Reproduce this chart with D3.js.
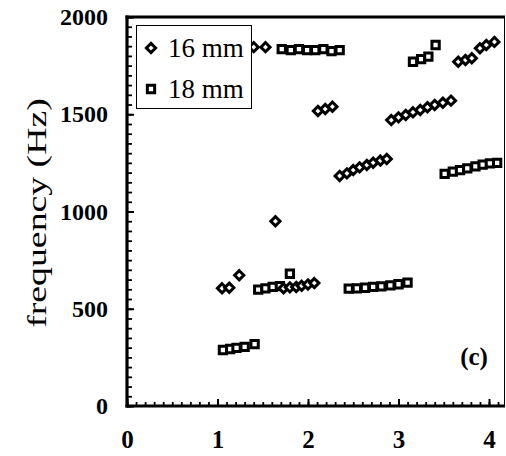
<!DOCTYPE html>
<html>
<head>
<meta charset="utf-8"/>
<script src="https://cdn.jsdelivr.net/npm/d3@7"></script>
<style>
  body { margin: 0; background: #fff; }
  text { font-family: "Liberation Serif", "Times New Roman", serif; fill: #000; }
</style>
</head>
<body>
<script>
// 16 mm series (diamonds)
var d16x = [1.05, 1.13, 1.24, 1.40, 1.53, 1.64,
            1.73, 1.80, 1.87, 1.93, 2.00, 2.07,
            2.11, 2.19, 2.27,
            2.35, 2.43, 2.50, 2.57, 2.65, 2.72, 2.80, 2.87,
            2.92, 3.00, 3.08, 3.16, 3.24, 3.32, 3.40, 3.49, 3.58,
            3.66, 3.74, 3.81, 3.90, 3.97, 4.06];
var d16y = [605, 608, 672, 1845, 1845, 950,
            605, 610, 612, 618, 625, 632,
            1517, 1527, 1539,
            1183, 1196, 1213, 1227, 1239, 1251, 1262, 1270,
            1470, 1484, 1496, 1510, 1522, 1536, 1548, 1559, 1570,
            1770, 1779, 1788, 1839, 1856, 1872];
// 18 mm series (squares)
var d18x = [1.06, 1.14, 1.21, 1.30, 1.41,
            1.45, 1.53, 1.61, 1.69, 1.80,
            1.71, 1.81, 1.90, 1.99, 2.08, 2.17, 2.26, 2.35,
            2.45, 2.54, 2.63, 2.72, 2.81, 2.91, 3.00, 3.10,
            3.16, 3.25, 3.33, 3.41,
            3.51, 3.60, 3.68, 3.76, 3.85, 3.93, 4.01, 4.09];
var d18y = [288, 293, 299, 304, 318,
            598, 605, 612, 616, 680,
            1835, 1830, 1835, 1830, 1830, 1835, 1825, 1830,
            603, 605, 608, 612, 615, 620, 626, 634,
            1770, 1783, 1796, 1856,
            1193, 1205, 1213, 1222, 1232, 1241, 1247, 1250];
var xTicks = [0, 1, 2, 3, 4];
var yTicks = [0, 500, 1000, 1500, 2000];
var seriesNames = ["16 mm", "18 mm"];

var W = 506, H = 456;
var svg = d3.select("body").append("svg").attr("width", W).attr("height", H);

var x = d3.scaleLinear().domain([0, 4.2]).range([127, 507.1]);
var y = d3.scaleLinear().domain([0, 2000]).range([406, 17]);

// minor ticks
svg.append("g").attr("transform", "translate(0,406)")
  .call(d3.axisBottom(x).tickValues(d3.range(0, 4.2, 0.1)).tickSize(-4).tickFormat(""))
  .call(g => g.select(".domain").remove())
  .selectAll("line").attr("stroke", "#000").attr("stroke-width", 1.8);
svg.append("g").attr("transform", "translate(127,0)")
  .call(d3.axisLeft(y).tickValues(d3.range(0, 2001, 50)).tickSize(-5).tickFormat(""))
  .call(g => g.select(".domain").remove())
  .selectAll("line").attr("stroke", "#000").attr("stroke-width", 1.8);

// major ticks + labels
var xa = svg.append("g").attr("transform", "translate(0,406)")
  .call(d3.axisBottom(x).tickValues(xTicks).tickSize(-7).tickPadding(24).tickFormat(d3.format("d")));
xa.select(".domain").remove();
xa.selectAll("line").attr("stroke", "#000").attr("stroke-width", 2);
xa.selectAll("text").attr("font-size", 25).attr("font-family", "Liberation Serif").attr("font-weight", "bold");

var ya = svg.append("g").attr("transform", "translate(127,0)")
  .call(d3.axisLeft(y).tickValues(yTicks).tickSize(-7).tickPadding(19).tickFormat(d3.format("d")));
ya.select(".domain").remove();
ya.selectAll("line").attr("stroke", "#000").attr("stroke-width", 2);
ya.selectAll("text").attr("font-size", 24).attr("font-family", "Liberation Serif").attr("font-weight", "bold");

// frame
svg.append("line").attr("x1", 127).attr("x2", 127).attr("y1", 15.5).attr("y2", 407.5)
  .attr("stroke", "#000").attr("stroke-width", 3.2);
svg.append("line").attr("x1", 125.5).attr("x2", 505).attr("y1", 406).attr("y2", 406)
  .attr("stroke", "#000").attr("stroke-width", 3.2);
svg.append("line").attr("x1", 125.5).attr("x2", 505).attr("y1", 17).attr("y2", 17)
  .attr("stroke", "#000").attr("stroke-width", 3);
svg.append("line").attr("x1", 504.5).attr("x2", 504.5).attr("y1", 17).attr("y2", 406)
  .attr("stroke", "#000").attr("stroke-width", 1);

svg.append("text")
  .attr("transform", "translate(37,213) rotate(-90) scale(1.4,1)")
  .attr("text-anchor", "middle").attr("dominant-baseline", "central")
  .attr("font-size", 27)
  .text("frequency (Hz)");

var diamond = d3.symbol().type(d3.symbolDiamond2).size(54);
var square = d3.symbol().type(d3.symbolSquare2).size(68);

var pts16 = d16x.map((v, i) => [v, d16y[i]]);
var pts18 = d18x.map((v, i) => [v, d18y[i]]);

svg.append("g").selectAll("path").data(pts18).enter().append("path")
  .attr("d", square)
  .attr("transform", d => "translate(" + x(d[0]) + "," + y(d[1]) + ")")
  .attr("fill", "#fff").attr("stroke", "#000").attr("stroke-width", 3);
svg.append("g").selectAll("path").data(pts16).enter().append("path")
  .attr("d", diamond)
  .attr("transform", d => "translate(" + x(d[0]) + "," + y(d[1]) + ")")
  .attr("fill", "#fff").attr("stroke", "#000").attr("stroke-width", 3);

// legend
var lg = svg.append("g");
lg.append("rect").attr("x", 136.5).attr("y", 25.5).attr("width", 115).attr("height", 83)
  .attr("fill", "#fff").attr("stroke", "#000").attr("stroke-width", 1);
lg.append("path").attr("d", diamond).attr("transform", "translate(151,48)")
  .attr("fill", "#fff").attr("stroke", "#000").attr("stroke-width", 3);
lg.append("path").attr("d", square).attr("transform", "translate(151,89)")
  .attr("fill", "#fff").attr("stroke", "#000").attr("stroke-width", 3);
lg.append("text").attr("x", 168).attr("y", 57).attr("font-size", 27).text(seriesNames[0]);
lg.append("text").attr("x", 168).attr("y", 98).attr("font-size", 27).text(seriesNames[1]);

svg.append("text").attr("x", 474).attr("y", 365).attr("text-anchor", "middle")
  .attr("font-size", 25).attr("font-weight", "bold").text("(c)");
</script>
</body>
</html>
